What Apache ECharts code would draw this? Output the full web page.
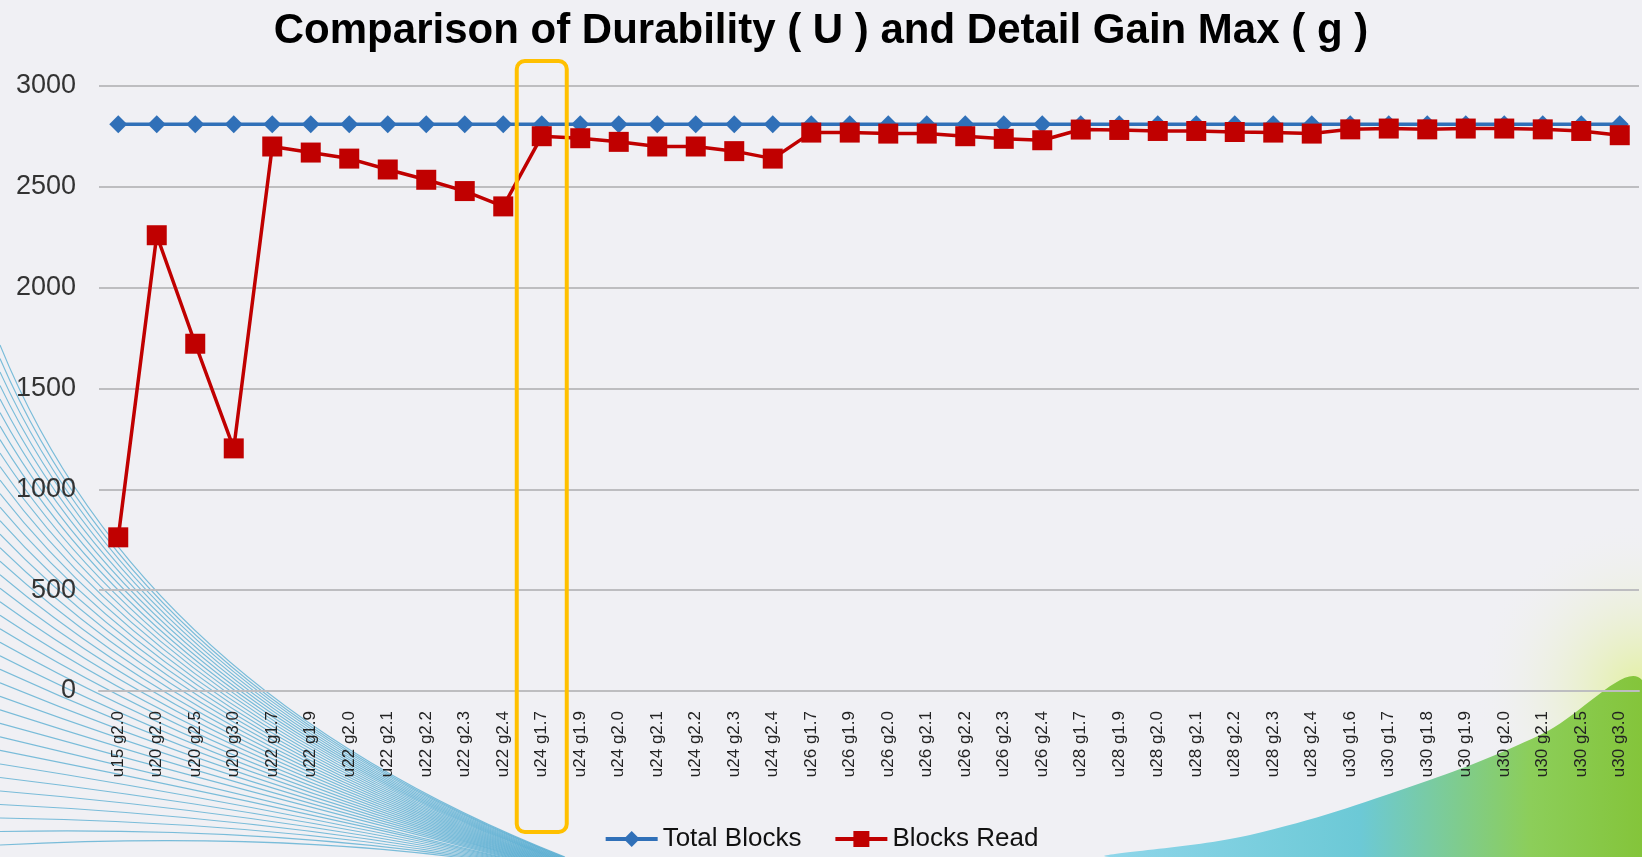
<!DOCTYPE html>
<html>
<head>
<meta charset="utf-8">
<title>Durability vs Detail Gain Max</title>
<script src="https://cdn.jsdelivr.net/npm/echarts@6/dist/echarts.min.js"></script>
<style>
  html, body { margin: 0; padding: 0; background: #f0f0f4; }
  #chart { width: 1642px; height: 857px; }
</style>
</head>
<body>
<div id="chart"></div>
<script>
// categories (U / g combos)
const categories = [
  'u15 g2.0', 'u20 g2.0', 'u20 g2.5', 'u20 g3.0',
  'u22 g1.7', 'u22 g1.9', 'u22 g2.0', 'u22 g2.1', 'u22 g2.2', 'u22 g2.3', 'u22 g2.4',
  'u24 g1.7', 'u24 g1.9', 'u24 g2.0', 'u24 g2.1', 'u24 g2.2', 'u24 g2.3', 'u24 g2.4',
  'u26 g1.7', 'u26 g1.9', 'u26 g2.0', 'u26 g2.1', 'u26 g2.2', 'u26 g2.3', 'u26 g2.4',
  'u28 g1.7', 'u28 g1.9', 'u28 g2.0', 'u28 g2.1', 'u28 g2.2', 'u28 g2.3', 'u28 g2.4',
  'u30 g1.6', 'u30 g1.7', 'u30 g1.8', 'u30 g1.9', 'u30 g2.0', 'u30 g2.1', 'u30 g2.5', 'u30 g3.0'
]

const totalBlocks = [
  2810, 2810, 2810, 2810, 2810, 2810, 2810, 2810, 2810, 2810, 2810,
  2810, 2810, 2810, 2810, 2810, 2810, 2810, 2810, 2810, 2810, 2810,
  2810, 2810, 2810, 2810, 2810, 2810, 2810, 2810, 2810, 2810, 2810,
  2810, 2810, 2810, 2810, 2810, 2810, 2810
]

const blocksRead = [
  762, 2260, 1722, 1203,
  2700, 2670, 2640, 2586, 2535, 2479, 2403,
  2751, 2741, 2723, 2700, 2700, 2677, 2640,
  2769, 2769, 2764, 2764, 2751, 2738, 2731,
  2784, 2782, 2777, 2777, 2772, 2769, 2764,
  2785, 2789, 2785, 2789, 2789, 2785, 2777, 2756
]

const yTicks = [0, 500, 1000, 1500, 2000, 2500, 3000]

const highlightCat = 'u24 g1.7'

const FONT = 'Liberation Sans, Arial, sans-serif'

// background swirl lines, bottom left
function decoLines () {
  const out = []
  const n = 38
  for (let i = 0; i < n; i++) {
    const t = i / (n - 1)
    const y0 = 345 + t * 500
    const xe = 565 - t * 40
    out.push({
      type: 'bezierCurve',
      silent: true,
      z: -10,
      shape: {
        x1: 0, y1: y0,
        x2: xe, y2: 857 + t * 10,
        cpx1: 140 + t * 160, cpy1: 690 + t * 140
      },
      style: { stroke: 'rgba(70,165,205,0.7)', lineWidth: 1.1, fill: null }
    })
  }
  return out
}

// green/blue swoosh, bottom right
function decoRight () {
  return [
    {
      type: 'circle',
      silent: true,
      z: -11,
      shape: { cx: 1642, cy: 690, r: 170 },
      style: {
        fill: new echarts.graphic.RadialGradient(0.5, 0.5, 0.5, [
          { offset: 0, color: 'rgba(225,240,150,0.9)' },
          { offset: 1, color: 'rgba(240,240,244,0)' }
        ])
      }
    },
    {
      type: 'polygon',
      silent: true,
      z: -10,
      shape: {
        points: [[1110, 857], [1250, 835], [1421, 783], [1540, 735], [1642, 680], [1642, 857]],
        smooth: 0.4
      },
      style: {
        fill: new echarts.graphic.LinearGradient(0, 0, 1, 0, [
          { offset: 0, color: '#8fd6ea' },
          { offset: 0.45, color: '#6cc9d6' },
          { offset: 0.75, color: '#8cce5a' },
          { offset: 1, color: '#82c232' }
        ])
      }
    }
  ]
}

const chartDom = document.getElementById('chart')
const myChart = echarts.init(chartDom, null, { renderer: 'canvas' })

const option = {
  backgroundColor: '#f0f0f4',
  animation: false,
  title: {
    text: 'Comparison of Durability ( U ) and Detail Gain Max ( g )',
    left: 'center',
    top: 5,
    textStyle: {
      fontFamily: FONT,
      fontSize: 42,
      fontWeight: 'bold',
      color: '#000'
    }
  },
  legend: {
    data: ['Total Blocks', 'Blocks Read'],
    bottom: 0,
    left: 'center',
    itemWidth: 52,
    itemHeight: 20,
    itemGap: 32,
    lineStyle: { width: 4 },
    textStyle: {
      fontFamily: FONT,
      fontSize: 26,
      color: '#111'
    }
  },
  grid: {
    left: 99,
    right: 3,
    top: 86,
    bottom: 166,
    containLabel: false
  },
  xAxis: {
    type: 'category',
    data: categories,
    boundaryGap: true,
    axisLine: { show: true, lineStyle: { color: '#bdbdc0', width: 2 } },
    axisTick: { show: false },
    axisLabel: {
      interval: 0,
      rotate: 90,
      margin: 20,
      fontFamily: FONT,
      fontSize: 17,
      color: '#222'
    }
  },
  yAxis: {
    type: 'value',
    min: yTicks[0],
    max: yTicks[yTicks.length - 1],
    interval: 500,
    axisLine: { show: false },
    axisTick: { show: false },
    splitLine: { show: true, lineStyle: { color: '#bdbdc0', width: 2 } },
    axisLabel: {
      margin: 23,
      fontFamily: FONT,
      fontSize: 27,
      color: '#333',
      formatter: v => String(v)
    }
  },
  series: [
    {
      name: 'Total Blocks',
      type: 'line',
      data: totalBlocks,
      symbol: 'diamond',
      symbolSize: [18, 18],
      lineStyle: { color: '#3070b8', width: 3.5 },
      itemStyle: { color: '#3070b8' },
      z: 2
    },
    {
      name: 'Blocks Read',
      type: 'line',
      data: blocksRead,
      symbol: 'rect',
      symbolSize: 20,
      lineStyle: { color: '#c00000', width: 3.5 },
      itemStyle: { color: '#c00000' },
      z: 3
    }
  ],
  graphic: decoLines().concat(decoRight())
}

myChart.setOption(option)

// yellow outline around the highlighted column
const hx = myChart.convertToPixel({ xAxisIndex: 0 }, highlightCat)
myChart.setOption({
  graphic: decoLines().concat(decoRight()).concat([{
    type: 'rect',
    silent: true,
    z: 10,
    shape: { x: hx - 25, y: 61, width: 50, height: 771, r: 8 },
    style: { fill: null, stroke: '#ffc000', lineWidth: 4 }
  }])
})

window.onresize = () => myChart.resize()
</script>
</body>
</html>
